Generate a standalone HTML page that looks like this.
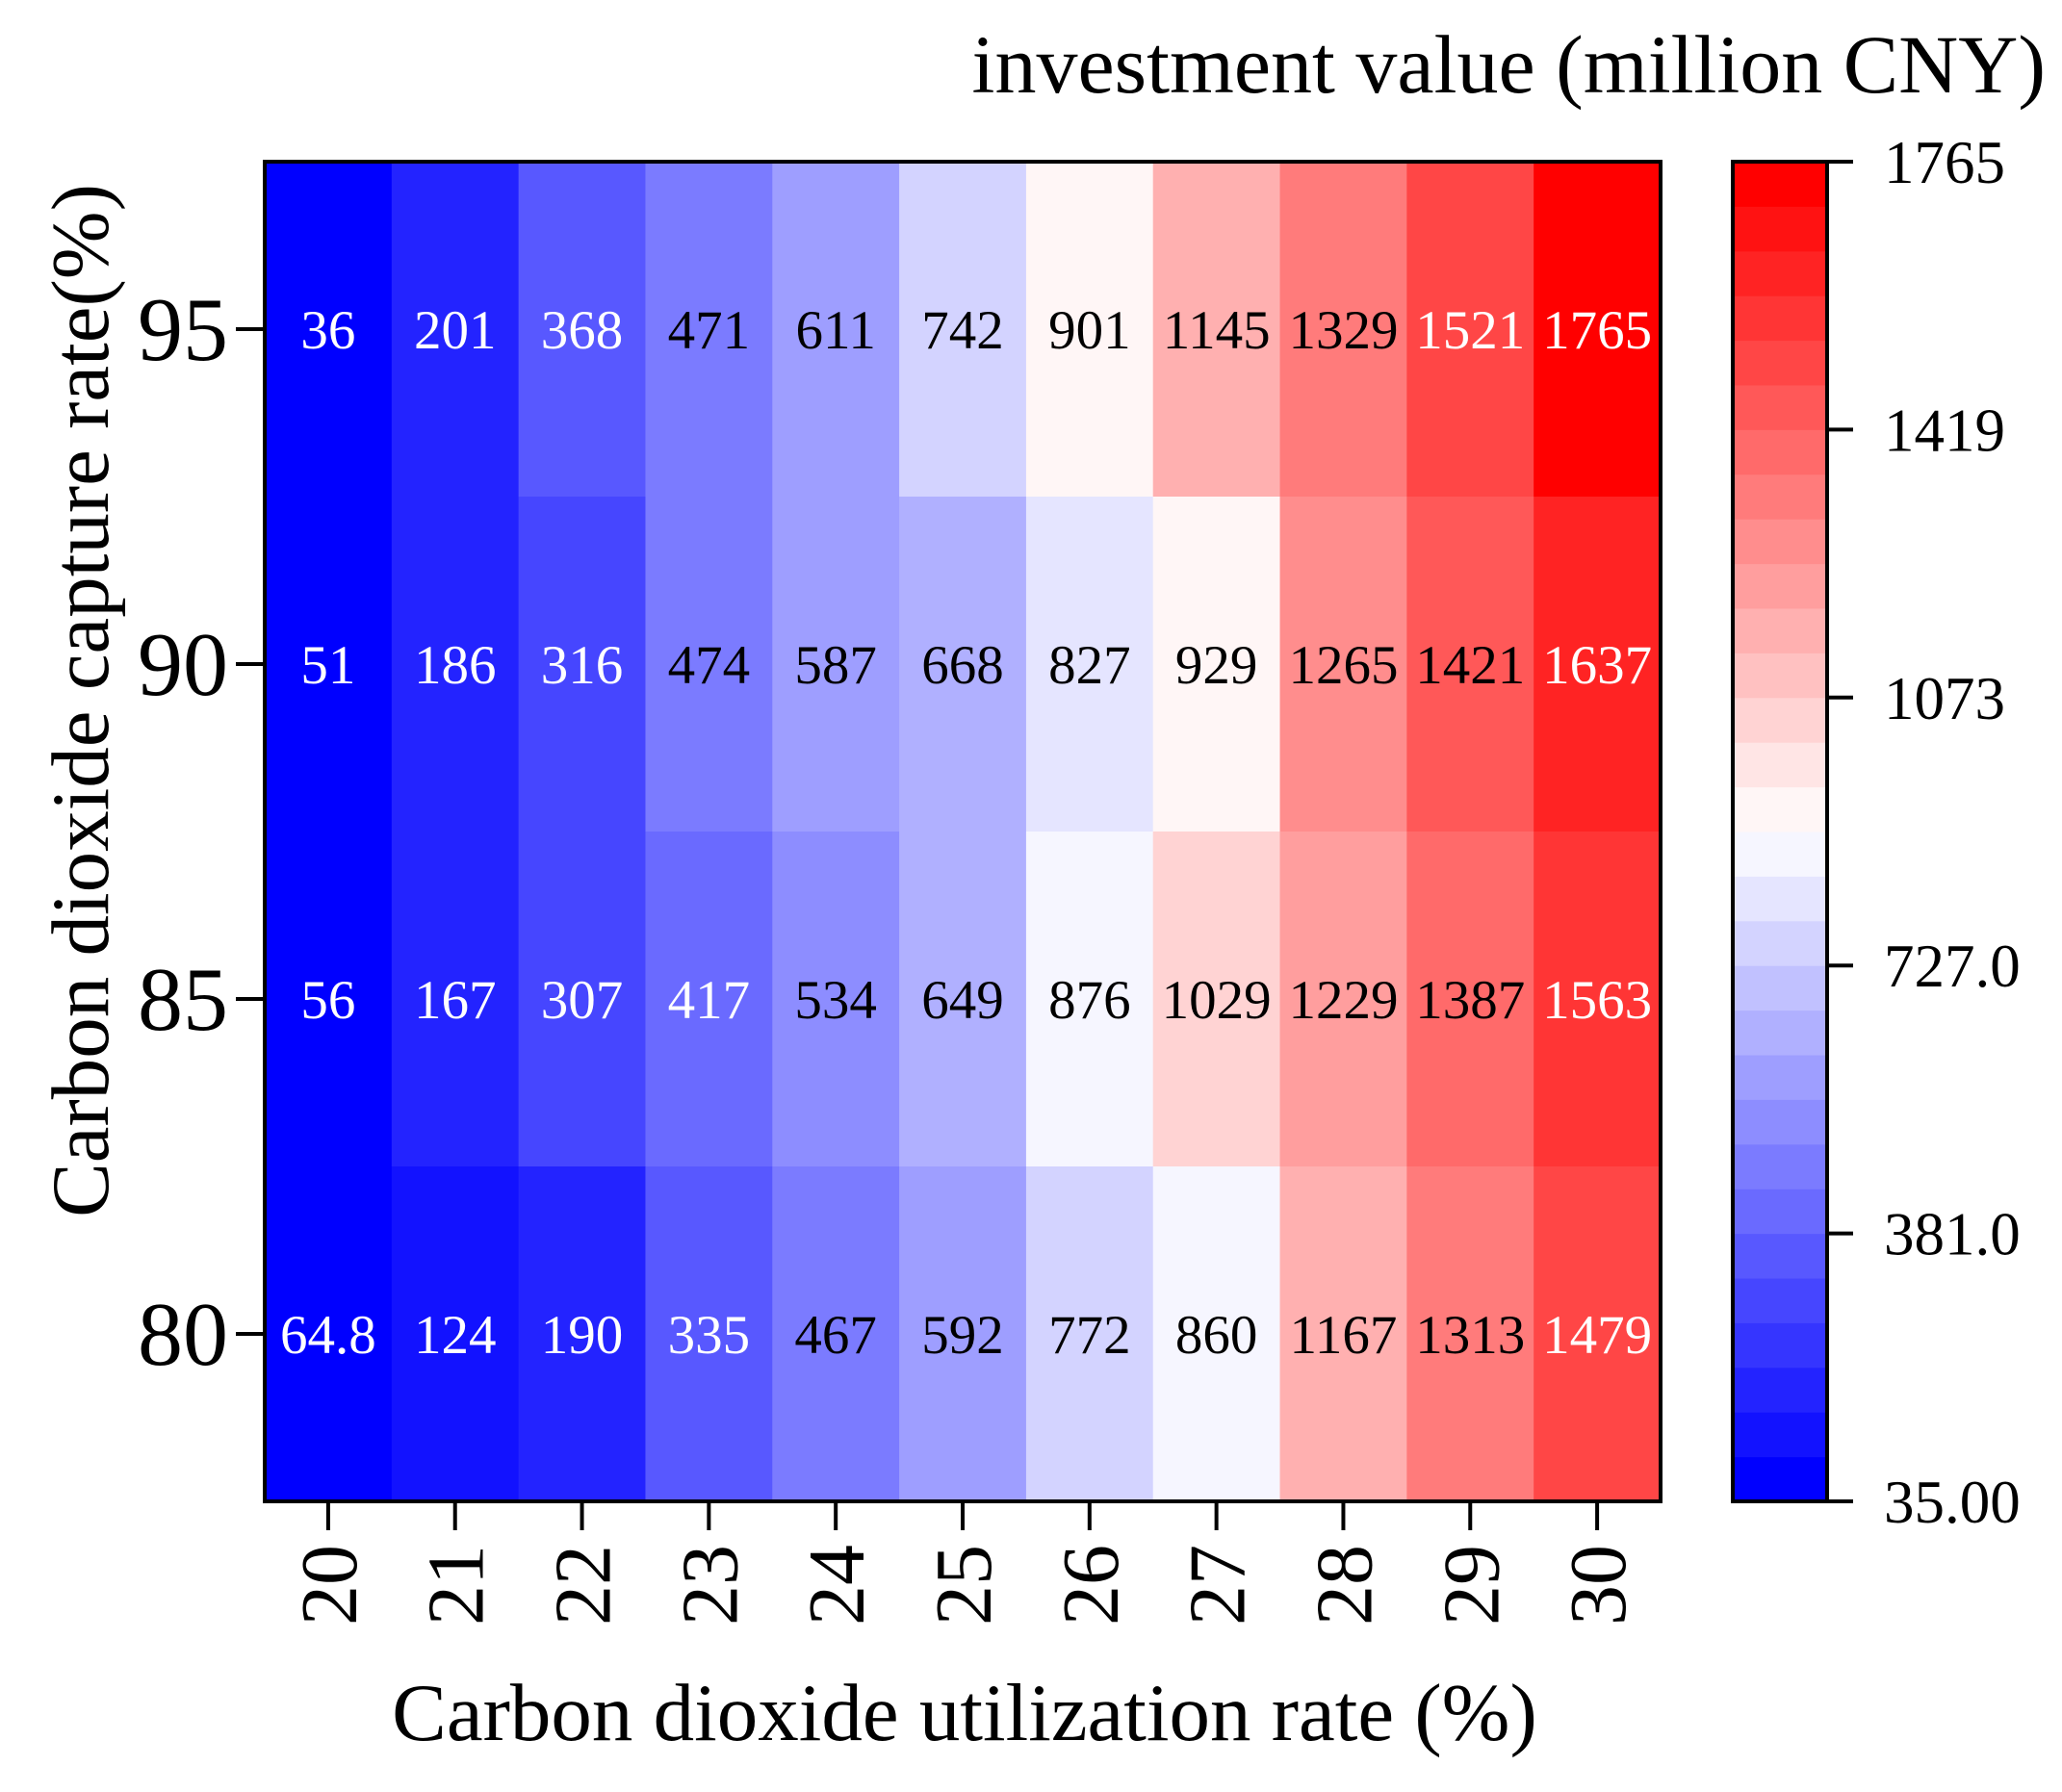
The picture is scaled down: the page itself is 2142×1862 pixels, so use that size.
<!DOCTYPE html>
<html><head><meta charset="utf-8">
<style>
html,body{margin:0;padding:0;background:#fff;}
svg{display:block;font-family:"Liberation Serif","Noto Serif CJK SC",serif;}
</style></head>
<body>
<svg id="chart" width="2142" height="1862" viewBox="0 0 2142 1862" xmlns="http://www.w3.org/2000/svg">
<g id="cells"></g>
<g id="labels"></g>
<rect x="275" y="168" width="1450" height="1392" fill="none" stroke="#000" stroke-width="4"/>
<g id="xaxis"></g>
<g id="yaxis"></g>
<text x="1002" y="1808" font-size="85" text-anchor="middle">Carbon dioxide utilization rate (%)</text>
<text transform="translate(112,728) rotate(-90)" font-size="85" text-anchor="middle">Carbon dioxide capture rate(%)</text>
<g id="cbar"></g>
<rect x="1800" y="168" width="98" height="1392" fill="none" stroke="#000" stroke-width="4"/>
<text x="2125" y="96" font-size="86" text-anchor="end">investment value (million CNY)</text>
</svg>
<script>
const xCategories = ["20","21","22","23","24","25","26","27","28","29","30"];
const yCategories = ["95","90","85","80"];
const row95 = [36,201,368,471,611,742,901,1145,1329,1521,1765];
const row90 = [51,186,316,474,587,668,827,929,1265,1421,1637];
const row85 = [56,167,307,417,534,649,876,1029,1229,1387,1563];
const row80 = [64.8,124,190,335,467,592,772,860,1167,1313,1479];
const colorbarTicks = ["35.00","381.0","727.0","1073","1419","1765"];
const vmin = 35, vmax = 1765;

const NS = "http://www.w3.org/2000/svg";
const L = 275, R = 1725, T = 168, B = 1560;
const nx = xCategories.length, ny = yCategories.length;
const cw = (R - L) / nx, ch = (B - T) / ny;
const xPos = i => L + i * cw;
const yPos = j => T + j * ch;
const NB = 30;
function bwr(t){
  let r,g,b;
  if (t < 0.5){ r = g = 2*t; b = 1; } else { r = 1; g = b = 2*(1-t); }
  return `rgb(${Math.round(r*255)},${Math.round(g*255)},${Math.round(b*255)})`;
}
function colorFor(v){
  let t = (v - vmin) / (vmax - vmin);
  let k = Math.min(NB-1, Math.max(0, Math.floor(t*NB)));
  return bwr(k/(NB-1));
}
function mk(tag, attrs, parent){
  const e = document.createElementNS(NS, tag);
  for (const k in attrs) e.setAttribute(k, attrs[k]);
  parent.appendChild(e);
  return e;
}
const rows = [row95, row90, row85, row80];
const cells = document.getElementById('cells');
const labels = document.getElementById('labels');
rows.forEach((row, j) => {
  row.forEach((v, i) => {
    const r = mk('rect', {x: xPos(i), y: yPos(j), width: cw+0.5, height: ch+0.5, fill: colorFor(v)}, cells);
    
    
    const t = (v - vmin) / (vmax - vmin);
    const tx = mk('text', {x: xPos(i) + cw/2, y: yPos(j) + ch/2 + 20, 'font-size': 57, 'text-anchor': 'middle',
      fill: (t < 0.235 || t > 0.82) ? '#fff' : '#000'}, labels);
    tx.textContent = String(v);
    
    
  });
});
const xaxis = document.getElementById('xaxis');
xCategories.forEach((c, i) => {
  const cx = xPos(i) + cw/2;
  const tk = mk('line', {x1: cx, y1: B, x2: cx, y2: B+30, stroke: '#000', 'stroke-width': 4}, xaxis);
  
  
  const tl = mk('text', {transform: `translate(${cx+29},${B+45}) rotate(-90)`, 'font-size': 84, 'text-anchor': 'end'}, xaxis);
  tl.textContent = c;
  
  
});
const yaxis = document.getElementById('yaxis');
yCategories.forEach((c, j) => {
  const cy = yPos(j) + ch/2;
  const tk = mk('line', {x1: L-30, y1: cy, x2: L, y2: cy, stroke: '#000', 'stroke-width': 4}, yaxis);
  
  
  const tl = mk('text', {x: L-38, y: cy+32, 'font-size': 94, 'text-anchor': 'end'}, yaxis);
  tl.textContent = c;
  
  
});
const cbar = document.getElementById('cbar');
const bh = (B - T) / NB;
for (let k = 0; k < NB; k++){
  const r = mk('rect', {x: 1800, y: B - (k+1)*bh, width: 98, height: bh+0.5, fill: bwr(k/(NB-1))}, cbar);
  
  
}
colorbarTicks.forEach((lab, k) => {
  const cy = B - k * (B - T) / (colorbarTicks.length - 1);
  const tk = mk('line', {x1: 1898, y1: cy, x2: 1925, y2: cy, stroke: '#000', 'stroke-width': 4}, cbar);
  
  
  const tl = mk('text', {x: 1957, y: cy+22, 'font-size': 63}, cbar);
  tl.textContent = lab;
  
  
});
</script>
</body></html>
